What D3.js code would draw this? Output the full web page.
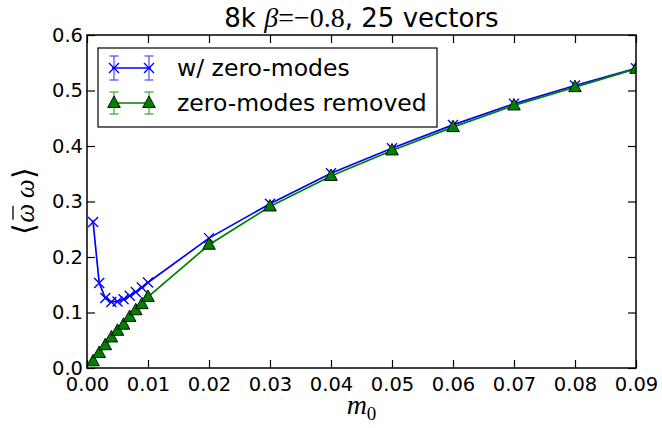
<!DOCTYPE html>
<html>
<head>
<meta charset="utf-8">
<script src="https://cdn.jsdelivr.net/npm/d3@7"></script>
<style>
  body { margin: 0; background: #fff; }
  svg { display: block; }
</style>
</head>
<body>
<div id="chart"></div>
<script>
// data
var m0 = [0.001, 0.002, 0.003, 0.004, 0.005, 0.006, 0.007, 0.008, 0.009, 0.010,
          0.02, 0.03, 0.04, 0.05, 0.06, 0.07, 0.08, 0.09];
var withZero = [0.263, 0.153, 0.126, 0.119, 0.120, 0.124, 0.130, 0.137, 0.145, 0.154,
                0.234, 0.296, 0.351, 0.396, 0.438, 0.476, 0.509, 0.540];
var withZeroErr = [0.004, 0.003, 0.002, 0.002, 0.002, 0.002, 0.002, 0.002, 0.002, 0.002,
                   0.002, 0.002, 0.002, 0.002, 0.002, 0.002, 0.002, 0.002];
var removed = [0.012, 0.027, 0.041, 0.055, 0.067, 0.078, 0.092, 0.104, 0.115, 0.128,
               0.222, 0.291, 0.346, 0.392, 0.434, 0.473, 0.506, 0.539];
var removedErr = [0.001, 0.001, 0.001, 0.001, 0.001, 0.001, 0.001, 0.001, 0.001, 0.001,
                  0.001, 0.001, 0.001, 0.001, 0.001, 0.001, 0.001, 0.001];
var xTicks = [0, 0.01, 0.02, 0.03, 0.04, 0.05, 0.06, 0.07, 0.08, 0.09];
var yTicks = [0, 0.1, 0.2, 0.3, 0.4, 0.5, 0.6];
var seriesNames = ["w/ zero-modes", "zero-modes removed"];

var W = 662, H = 428;
var margin = {top: 35, right: 26, bottom: 60, left: 87};
var width = W - margin.left - margin.right;
var height = H - margin.top - margin.bottom;

var svg = d3.select("#chart").append("svg")
  .attr("width", W)
  .attr("height", H);

var g = svg.append("g")
  .attr("transform", "translate(" + margin.left + "," + margin.top + ")");

var x = d3.scaleLinear().domain([0, 0.09]).range([0, width]);
var y = d3.scaleLinear().domain([0, 0.6]).range([height, 0]);

var sans = "DejaVu Sans";
var serif = "Liberation Serif";

// clip for the data
g.append("clipPath").attr("id", "clip")
  .append("rect").attr("x", -8).attr("y", 0).attr("width", width + 8).attr("height", height + 8);

var plot = g.append("g").attr("clip-path", "url(#clip)");

function drawSeries(vals, errs, color, errColor) {
  var pts = m0.map(function(d, i) { return {x: d, y: vals[i], e: errs[i]}; });
  var line = d3.line().x(function(d) { return x(d.x); }).y(function(d) { return y(d.y); });
  plot.append("path").datum(pts)
    .attr("d", line)
    .attr("fill", "none")
    .attr("stroke", color)
    .attr("stroke-width", 1.7);
  var eb = plot.append("g").selectAll("g").data(pts).enter().append("g");
  eb.append("line")
    .attr("x1", function(d) { return x(d.x); }).attr("x2", function(d) { return x(d.x); })
    .attr("y1", function(d) { return y(d.y - d.e); }).attr("y2", function(d) { return y(d.y + d.e); })
    .attr("stroke", errColor).attr("stroke-width", 1.3);
  return pts;
}

// blue series
var bluePts = drawSeries(withZero, withZeroErr, "#0000ff", "#5555ff");
plot.append("g").selectAll("path").data(bluePts).enter().append("path")
  .attr("d", "M-5,-5L5,5M-5,5L5,-5")
  .attr("transform", function(d) { return "translate(" + x(d.x) + "," + y(d.y) + ")"; })
  .attr("stroke", "#0000ff").attr("stroke-width", 1.4).attr("fill", "none");

// green series
var greenPts = drawSeries(removed, removedErr, "#008000", "#44aa44");
var tri = "M0,-7L6.3,4.5L-6.3,4.5Z";
plot.append("g").selectAll("path").data(greenPts).enter().append("path")
  .attr("d", tri)
  .attr("transform", function(d) { return "translate(" + x(d.x) + "," + y(d.y) + ")"; })
  .attr("fill", "#008000").attr("stroke", "#000").attr("stroke-width", 0.9);

// ticks, inward on all four sides
var tickLen = 8;
var fmtX = d3.format(".2f"), fmtY = d3.format(".1f");

g.append("g").attr("transform", "translate(0," + height + ")")
  .call(d3.axisBottom(x).tickValues(xTicks).tickSizeInner(-tickLen).tickSizeOuter(0).tickPadding(6).tickFormat(fmtX))
  .call(function(a) {
    a.select(".domain").remove();
    a.selectAll("line").attr("stroke", "#000").attr("stroke-width", 1.2);
    a.selectAll("text").attr("font-family", sans).attr("font-size", "19.5px").attr("fill", "#000")
      .attr("y", 5).attr("dy", "0.9em");
  });
g.append("g")
  .call(d3.axisTop(x).tickValues(xTicks).tickSizeInner(-tickLen).tickSizeOuter(0).tickFormat(""))
  .call(function(a) {
    a.select(".domain").remove();
    a.selectAll("line").attr("stroke", "#000").attr("stroke-width", 1.2);
  });
g.append("g")
  .call(d3.axisLeft(y).tickValues(yTicks).tickSizeInner(-tickLen).tickSizeOuter(0).tickPadding(6).tickFormat(fmtY))
  .call(function(a) {
    a.select(".domain").remove();
    a.selectAll("line").attr("stroke", "#000").attr("stroke-width", 1.2);
    a.selectAll("text").attr("font-family", sans).attr("font-size", "19.5px").attr("fill", "#000")
      .attr("x", -4);
  });
g.append("g").attr("transform", "translate(" + width + ",0)")
  .call(d3.axisRight(y).tickValues(yTicks).tickSizeInner(-tickLen).tickSizeOuter(0).tickFormat(""))
  .call(function(a) {
    a.select(".domain").remove();
    a.selectAll("line").attr("stroke", "#000").attr("stroke-width", 1.2);
  });

// frame
g.append("rect")
  .attr("width", width).attr("height", height)
  .attr("fill", "none").attr("stroke", "#000").attr("stroke-width", 1.5);

// title
var title = svg.append("text")
  .attr("x", margin.left + width / 2).attr("y", 27)
  .attr("text-anchor", "middle")
  .attr("font-family", sans).attr("font-size", "26px").attr("fill", "#000");
title.append("tspan").text("8k ");
title.append("tspan").attr("font-family", serif).attr("font-style", "italic").attr("font-size", "28px").text("β");
title.append("tspan").attr("font-family", serif).attr("font-size", "28px").text("=−0.8");
title.append("tspan").text(", 25 vectors");

// axis labels
var xl = svg.append("text")
  .attr("x", margin.left + width / 2).attr("y", 414)
  .attr("text-anchor", "middle")
  .attr("font-family", serif).attr("font-size", "28px").attr("fill", "#000");
xl.append("tspan").attr("font-style", "italic").text("m");
xl.append("tspan").attr("font-size", "19px").attr("dy", 6).text("0");

// y label: <omega-bar omega>, rotated; bar drawn as a short line
var yl = svg.append("g").attr("transform", "translate(34,201) rotate(-90)");
var ylt = yl.append("text")
  .attr("text-anchor", "middle")
  .attr("font-family", serif).attr("font-size", "27px").attr("fill", "#000");
ylt.append("tspan").attr("font-family", sans).attr("font-weight", "200").attr("font-size", "30px").text("⟨");
var om1 = ylt.append("tspan").attr("font-style", "italic").text("ω");
ylt.append("tspan").attr("font-style", "italic").text("\u2009ω");
ylt.append("tspan").attr("font-family", sans).attr("font-weight", "200").attr("font-size", "30px").text("⟩");
var om1Box = om1.node().getExtentOfChar ? ylt.node().getExtentOfChar(1) : null;
if (om1Box) {
  yl.append("line")
    .attr("x1", om1Box.x + 3).attr("x2", om1Box.x + om1Box.width - 2)
    .attr("y1", -21).attr("y2", -21)
    .attr("stroke", "#000").attr("stroke-width", 1.3);
}

// legend
var leg = svg.append("g").attr("transform", "translate(98,48)");
leg.append("rect").attr("width", 339).attr("height", 79)
  .attr("fill", "#fff").attr("stroke", "#000").attr("stroke-width", 1.2);

var legRows = [
  {name: seriesNames[0], color: "#0000ff", err: "#5555ff", mark: "x", cy: 20, half: 12},
  {name: seriesNames[1], color: "#008000", err: "#44aa44", mark: "tri", cy: 55, half: 11}
];
var lx0 = 16, lx1 = 51;
legRows.forEach(function(r) {
  var row = leg.append("g");
  row.append("line").attr("x1", lx0 - 2).attr("x2", lx1 + 2).attr("y1", r.cy).attr("y2", r.cy)
    .attr("stroke", r.color).attr("stroke-width", 1.7);
  [lx0, lx1].forEach(function(px) {
    row.append("line").attr("x1", px).attr("x2", px).attr("y1", r.cy - r.half).attr("y2", r.cy + r.half)
      .attr("stroke", r.err).attr("stroke-width", 1.3);
    row.append("line").attr("x1", px - 4.5).attr("x2", px + 4.5).attr("y1", r.cy - r.half).attr("y2", r.cy - r.half)
      .attr("stroke", r.err).attr("stroke-width", 1.3);
    row.append("line").attr("x1", px - 4.5).attr("x2", px + 4.5).attr("y1", r.cy + r.half).attr("y2", r.cy + r.half)
      .attr("stroke", r.err).attr("stroke-width", 1.3);
    if (r.mark === "x") {
      row.append("path").attr("d", "M-5,-5L5,5M-5,5L5,-5")
        .attr("transform", "translate(" + px + "," + r.cy + ")")
        .attr("stroke", r.color).attr("stroke-width", 1.4).attr("fill", "none");
    } else {
      row.append("path").attr("d", tri)
        .attr("transform", "translate(" + px + "," + r.cy + ")")
        .attr("fill", r.color).attr("stroke", "#000").attr("stroke-width", 0.9);
    }
  });
  row.append("text").attr("x", 79).attr("y", r.cy).attr("dy", "0.35em")
    .attr("font-family", sans).attr("font-size", "23.5px").attr("fill", "#000")
    .text(r.name);
});
</script>
</body>
</html>
